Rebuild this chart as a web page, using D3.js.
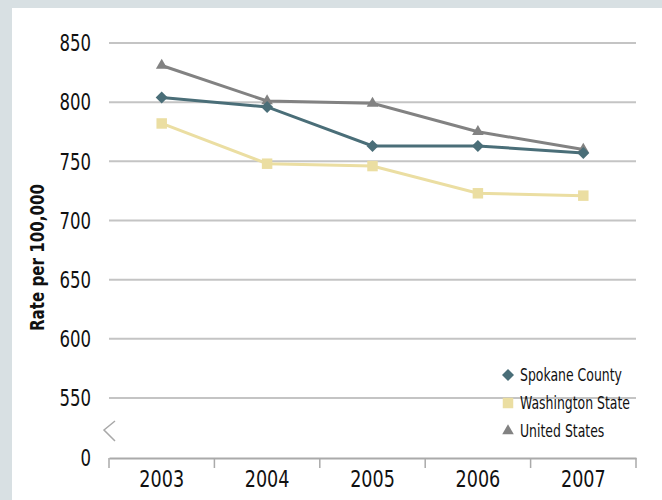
<!DOCTYPE html>
<html lang="en">
<head>
    <meta charset="UTF-8">
    <title>Rate per 100,000</title>
    <script src="https://d3js.org/d3.v7.min.js"></script>
    <style>
        body {
            margin: 0;
            background: #d8e0e3;
            font-family: "Liberation Sans Narrow", "DejaVu Sans Condensed", "DejaVu Sans", sans-serif;
        }
        svg {
            display: block;
        }
    </style>
</head>
<body>
    <div id="chart"></div>

    <script>
        // Data
        const years = ["2003", "2004", "2005", "2006", "2007"];
        const spokane = [804, 796, 763, 763, 757];
        const washington = [782, 748, 746, 723, 721];
        const unitedStates = [831, 801, 799, 775, 760];
        const yTicks = [0, 550, 600, 650, 700, 750, 800, 850];

        const seriesNames = ["Spokane County", "Washington State", "United States"];
        const seriesColors = ["#4a6e78", "#ebdea2", "#828282"];
        const seriesValues = [spokane, washington, unitedStates];

        const width = 662, height = 500;

        const svg = d3.select("#chart")
            .append("svg")
            .attr("width", width)
            .attr("height", height);

        // white panel over the grey frame
        svg.append("rect")
            .attr("x", 12)
            .attr("y", 8)
            .attr("width", width - 12)
            .attr("height", height - 8)
            .attr("fill", "#fff");

        // x: one band per year
        const x = d3.scaleBand()
            .domain(years)
            .range([109, 636]);

        // y: broken axis, 0 then jump to 550
        const y = d3.scaleLinear()
            .domain([0, 550, 850])
            .range([458, 398, 43]);

        // gridlines
        svg.append("g")
            .selectAll("line")
            .data(yTicks.filter(d => d > 0))
            .join("line")
            .attr("x1", 109)
            .attr("x2", 636)
            .attr("y1", d => y(d))
            .attr("y2", d => y(d))
            .attr("stroke", "#c4c4c4")
            .attr("stroke-width", 2);

        // y tick labels (narrowed to look like the condensed face of the original)
        svg.append("g")
            .selectAll("g")
            .data(yTicks)
            .join("g")
            .attr("transform", d => `translate(91,${y(d)}) scale(0.8,1)`)
            .append("text")
            .attr("dy", "0.36em")
            .attr("text-anchor", "end")
            .attr("font-size", 23)
            .attr("fill", "#111")
            .text(d => d);

        // axis break mark
        const breakY = (y(0) + y(550)) / 2 + 3;
        svg.append("path")
            .attr("d", `M115,${breakY - 10}L104,${breakY - 1}L115,${breakY + 10}`)
            .attr("fill", "none")
            .attr("stroke", "#a8a8a8")
            .attr("stroke-width", 1.5);

        // x axis
        const xAxis = svg.append("g")
            .attr("transform", `translate(0,${y(0)})`)
            .call(d3.axisBottom(x).tickSize(0).tickPadding(13))
            .attr("font-family", null)
            .attr("font-size", 23);
        xAxis.select(".domain")
            .attr("stroke", "#aaa")
            .attr("stroke-width", 2);
        xAxis.selectAll("text")
            .attr("fill", "#111")
            .attr("transform", "scale(0.85,1)");

        // separators between year bands
        xAxis.append("g")
            .selectAll("line")
            .data(years.map(d => x(d)).concat([x.range()[1]]))
            .join("line")
            .attr("x1", d => d)
            .attr("x2", d => d)
            .attr("y1", 0)
            .attr("y2", 10)
            .attr("stroke", "#aaa")
            .attr("stroke-width", 1.5);

        // y axis title
        svg.append("text")
            .attr("transform", `translate(44,${(y(550) + y(850)) / 2 + 37}) rotate(-90) scale(0.84,1)`)
            .attr("text-anchor", "middle")
            .attr("font-size", 20)
            .attr("font-weight", "bold")
            .attr("fill", "#111")
            .text("Rate per 100,000");

        const symbols = [
            d3.symbol().type(d3.symbolSquare).size(72),
            d3.symbol().type(d3.symbolSquare).size(110),
            d3.symbol().type(d3.symbolTriangle).size(58)
        ];
        const rotations = [45, 0, 0];

        const line = d3.line()
            .x((d, i) => x(years[i]) + x.bandwidth() / 2)
            .y(d => y(d));

        // draw in order: Washington, United States, Spokane on top
        [1, 2, 0].forEach(k => {
            const g = svg.append("g");
            g.append("path")
                .datum(seriesValues[k])
                .attr("d", line)
                .attr("fill", "none")
                .attr("stroke", seriesColors[k])
                .attr("stroke-width", 3);
            g.selectAll("path.mark")
                .data(seriesValues[k])
                .join("path")
                .attr("class", "mark")
                .attr("d", symbols[k])
                .attr("fill", seriesColors[k])
                .attr("transform", (d, i) => `translate(${x(years[i]) + x.bandwidth() / 2},${y(d)}) rotate(${rotations[k]})`);
        });

        // legend
        const legend = svg.append("g")
            .attr("transform", "translate(508,375)");
        seriesNames.forEach((name, k) => {
            const row = legend.append("g")
                .attr("transform", `translate(0,${k * 28})`);
            row.append("path")
                .attr("d", symbols[k])
                .attr("fill", seriesColors[k])
                .attr("transform", `rotate(${rotations[k]})`);
            row.append("text")
                .attr("transform", "translate(12,0) scale(0.77,1)")
                .attr("dy", "0.36em")
                .attr("font-size", 18)
                .attr("fill", "#111")
                .text(name);
        });
    </script>
</body>
</html>
